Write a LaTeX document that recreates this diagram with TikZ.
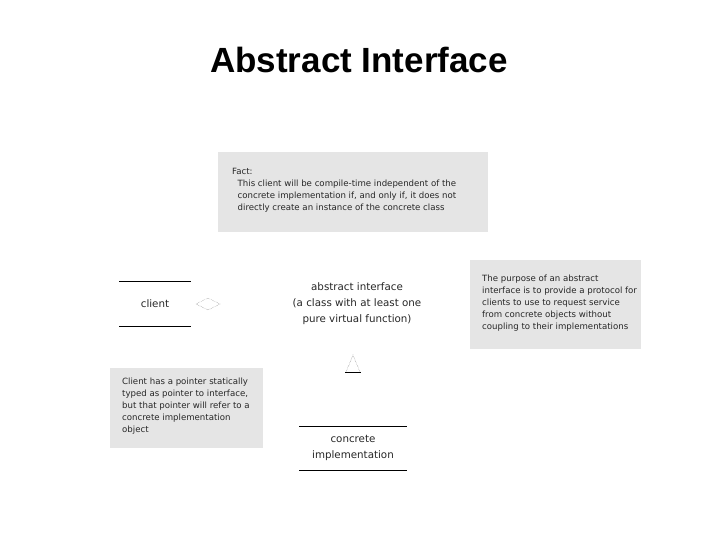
\documentclass[tikz,border=0pt]{standalone}
\usepackage{fontspec}
\setmainfont{DejaVu Sans}
\newfontfamily\titlefont{Liberation Sans}
\begin{document}
\begin{tikzpicture}[x=1pt,y=-1pt,
  note/.style={fill=black!10,draw=none,anchor=north west,inner sep=0pt},
  notetext/.style={anchor=north west,align=left,font=\fontsize{8.6}{12}\selectfont,text=black!85,inner sep=0pt},
  cls/.style={align=center,font=\fontsize{10.3}{16}\selectfont,text=black!85},
  rule/.style={draw=black,line width=0.8pt}]
\useasboundingbox (0,0) rectangle (720,540);
\node[font=\titlefont\bfseries\fontsize{35}{40}\selectfont] (title) at (359,60) {Abstract Interface};
\fill[black!10] (218,152) rectangle (488,232);
\node[notetext] (fact) at (232,168) {Fact:\\\ \ This client will be compile-time independent of the\\\ \ concrete implementation if, and only if, it does not\\\ \ directly create an instance of the concrete class};
\fill[black!10] (470,260) rectangle (641,349);
\node[notetext] (purpose) at (482,275) {The purpose of an abstract\\interface is to provide a protocol for\\clients to use to request service\\from concrete objects without\\coupling to their implementations};
\fill[black!10] (110,368) rectangle (263,448);
\node[notetext] (ptr) at (122,378) {Client has a pointer statically\\typed as pointer to interface,\\but that pointer will refer to a\\concrete implementation\\object};
\draw[rule] (119,281) -- (191,281);
\draw[rule] (119,326) -- (191,326);
\node[cls] (client) at (155,304) {client};
\draw[black!60,densely dotted] (196,304) -- (208,298) -- (220,304) -- (208,310) -- cycle;
\node[cls] (iface) at (357,304) {abstract interface\\(a class with at least one\\pure virtual function)};
\draw[black!60,densely dotted] (346,372) -- (353,355) -- (360,372);
\draw[rule] (345,372) -- (361,372);
\draw[rule] (299,426) -- (407,426);
\draw[rule] (299,470) -- (407,470);
\node[cls] (conc) at (353,448) {concrete\\implementation};
\end{tikzpicture}
\end{document}
